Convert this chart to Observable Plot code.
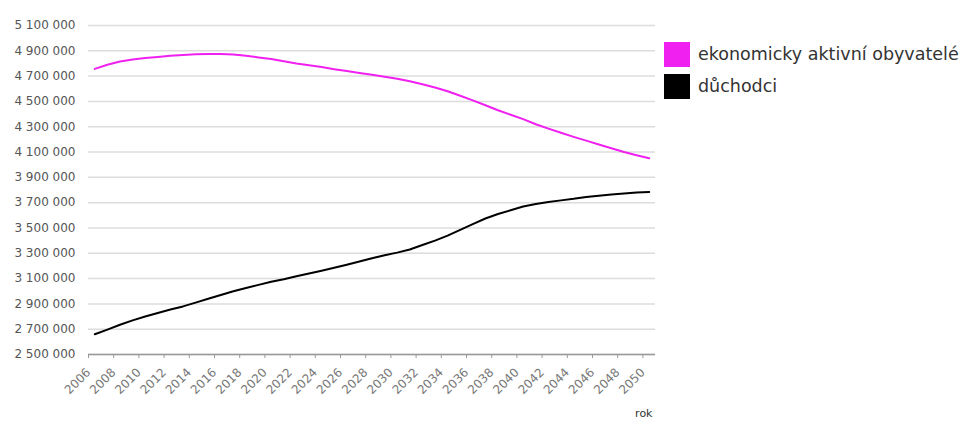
<!DOCTYPE html>
<html>
<head>
<meta charset="utf-8">
<script src="https://cdn.jsdelivr.net/npm/d3@7"></script>
<script src="https://cdn.jsdelivr.net/npm/@observablehq/plot@0.6"></script>
<style>
  body { margin: 0; background: #fff; font-family: "DejaVu Sans", Verdana, sans-serif; }
  #wrap { position: relative; width: 966px; height: 421px; overflow: hidden; }
  #legend { position: absolute; left: 664px; top: 38px; font-size: 17.5px; color: #333; white-space: nowrap; }
  .item { display: flex; align-items: center; height: 32px; }
  .sw { width: 26px; height: 25px; margin-right: 8px; flex: none; }
</style>
</head>
<body>
<div id="wrap"><div id="legend"></div></div>
<script>
const years = [2006,2007,2008,2009,2010,2011,2012,2013,2014,2015,2016,2017,2018,2019,2020,2021,2022,2023,2024,2025,2026,2027,2028,2029,2030,2031,2032,2033,2034,2035,2036,2037,2038,2039,2040,2041,2042,2043,2044,2045,2046,2047,2048,2049,2050];
const aktivni = [4757000,4790000,4815000,4832000,4843000,4852000,4860000,4867000,4872000,4874000,4875000,4870000,4860000,4848000,4836000,4818000,4800000,4786000,4772000,4755000,4740000,4725000,4710000,4695000,4680000,4660000,4635000,4610000,4580000,4545000,4508000,4470000,4430000,4395000,4360000,4320000,4285000,4252000,4220000,4190000,4160000,4130000,4100000,4075000,4051000];
const duchodci = [2660000,2697000,2735000,2770000,2800000,2828000,2855000,2880000,2910000,2940000,2970000,3000000,3025000,3050000,3075000,3095000,3118000,3140000,3162000,3185000,3210000,3235000,3260000,3285000,3305000,3330000,3365000,3400000,3440000,3485000,3530000,3575000,3610000,3640000,3670000,3690000,3705000,3718000,3730000,3745000,3755000,3765000,3772000,3780000,3784000];
const seriesNames = ["ekonomicky aktivní obyvatelé", "důchodci"];
const seriesColors = ["#f020f0", "#000000"];
const xTicks = [2006,2008,2010,2012,2014,2016,2018,2020,2022,2024,2026,2028,2030,2032,2034,2036,2038,2040,2042,2044,2046,2048,2050];
const yTicks = [2500000,2700000,2900000,3100000,3300000,3500000,3700000,3900000,4100000,4300000,4500000,4700000,4900000,5100000];
const xTitle = "rok";

const rows = [];
years.forEach((y, i) => {
  rows.push({year: y, value: aktivni[i], s: seriesNames[0]});
  rows.push({year: y, value: duchodci[i], s: seriesNames[1]});
});
const fmt = d3.formatLocale({decimal: ",", thousands: " ", grouping: [3], currency: ["", ""]}).format(",");

const chart = Plot.plot({
  width: 966,
  height: 421,
  marginLeft: 88,
  marginRight: 311,
  marginTop: 25,
  marginBottom: 67,
  style: {fontFamily: "DejaVu Sans, Verdana, sans-serif", background: "transparent"},
  x: {domain: [2006, 2051]},
  y: {domain: [2500000, 5100000]},
  marks: [
    Plot.gridY(yTicks, {stroke: "#dcdcdc", strokeOpacity: 1, strokeWidth: 1.5}),
    Plot.axisY(yTicks, {tickSize: 0, tickPadding: 13, tickFormat: fmt, fontSize: 12, fill: "#555", label: null}),
    Plot.ruleY([2500000], {stroke: "#999", strokeWidth: 1.5}),
    Plot.axisX(xTicks, {tickSize: 4, stroke: "#999", tickRotate: -45, tickFormat: d => String(d), fontSize: 12, fill: "#777", tickPadding: 12, label: null}),
    Plot.line(rows, {x: d => d.year + 0.5, y: "value", z: "s", stroke: d => seriesColors[seriesNames.indexOf(d.s)], strokeWidth: 2}),
    Plot.text([xTitle], {frameAnchor: "bottom-right", dx: -3, dy: 62, fontSize: 11, fill: "#333"})
  ]
});
const wrap = document.getElementById("wrap");
wrap.insertBefore(chart, wrap.firstChild);

const legend = document.getElementById("legend");
seriesNames.forEach((n, i) => {
  const it = document.createElement("div");
  it.className = "item";
  const sw = document.createElement("div");
  sw.className = "sw";
  sw.style.background = seriesColors[i];
  const t = document.createElement("span");
  t.textContent = n;
  it.appendChild(sw); it.appendChild(t);
  legend.appendChild(it);
});
</script>
</body>
</html>
